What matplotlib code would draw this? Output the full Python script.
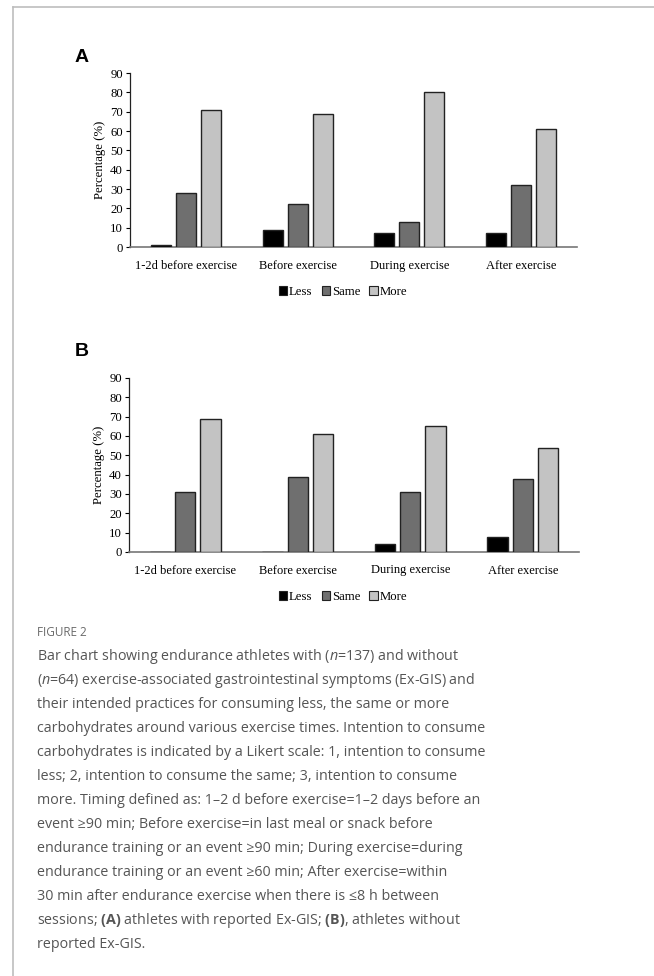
import matplotlib
matplotlib.use("Agg")
import matplotlib.pyplot as plt
import numpy as np
from matplotlib.patches import Patch
from matplotlib.lines import Line2D

categories = ["1-2d before exercise", "Before exercise", "During exercise", "After exercise"]
series_names = ["Less", "Same", "More"]
a_less = [1, 9, 7, 7]
a_same = [28, 22, 13, 32]
a_more = [71, 69, 80, 61]
b_less = [0, 0, 4, 8]
b_same = [31, 39, 31, 38]
b_more = [69, 61, 65, 54]
yticks = [0, 10, 20, 30, 40, 50, 60, 70, 80, 90]
colors = ["#000000", "#6f6f6f", "#c3c3c3"]

W, H = 654, 976
fig = plt.figure(figsize=(W / 100, H / 100), dpi=100)
fig.patch.set_facecolor("white")

serif = ["Liberation Serif", "DejaVu Serif"]


def px_axes(left, top, right, bottom):
    return fig.add_axes([left / W, 1 - bottom / H, (right - left) / W, (bottom - top) / H])


def draw_panel(ax, data, legend_y_px):
    x = np.arange(len(categories))
    bw = 0.179
    step = 0.224
    for i, (vals, col) in enumerate(zip(data, colors)):
        ax.bar(x + (i - 1) * step, vals, width=bw, color=col, edgecolor="#222222", linewidth=1.0, zorder=3)
    ax.set_xlim(-0.5, len(categories) - 0.5)
    ax.set_ylim(0, 90)
    ax.set_yticks(yticks)
    ax.set_yticklabels([str(t) for t in yticks], family=serif, fontsize=9.2)
    ax.set_xticks(x)
    ax.set_xticklabels(categories, family=serif, fontsize=9)
    ax.tick_params(axis="x", length=0, pad=9)
    ax.tick_params(axis="y", length=3, width=0.8, pad=2, direction="out")
    for s in ["top", "right"]:
        ax.spines[s].set_visible(False)
    ax.spines["left"].set_color("#222222")
    ax.spines["left"].set_linewidth(0.9)
    ax.spines["bottom"].set_color("#777777")
    ax.spines["bottom"].set_linewidth(1.2)
    ax.set_ylabel("Percentage (%)", family=serif, fontsize=9.2, labelpad=3)
    handles = [Patch(facecolor=c, edgecolor="#222222", linewidth=0.8) for c in colors]
    fig.legend(handles, series_names, loc="center", bbox_to_anchor=(343 / W, 1 - legend_y_px / H),
               ncol=3, frameon=False, handlelength=0.65, handleheight=0.65, handletextpad=0.15,
               columnspacing=0.7, prop={"family": serif, "size": 9.2})


axA = px_axes(130, 73, 577, 247)
draw_panel(axA, [a_less, a_same, a_more], 292)
axB = px_axes(129, 378, 579, 552)
draw_panel(axB, [b_less, b_same, b_more], 597)

fig.text(75 / W, 1 - 57 / H, "A", family=["Liberation Sans", "DejaVu Sans"], weight="bold", fontsize=14,
         ha="left", va="center")
fig.text(75 / W, 1 - 351 / H, "B", family=["Liberation Sans", "DejaVu Sans"], weight="bold", fontsize=14,
         ha="left", va="center")

# border lines
fig.add_artist(Line2D([13 / W, 1], [1 - 7 / H, 1 - 7 / H], color="#bdbdbd", linewidth=1.2))
fig.add_artist(Line2D([13 / W, 13 / W], [1 - 7 / H, 0], color="#bdbdbd", linewidth=1.2))

plt.rcParams["mathtext.fontset"] = "custom"
plt.rcParams["mathtext.rm"] = "Open Sans"
plt.rcParams["mathtext.it"] = "Open Sans:italic"
plt.rcParams["mathtext.bf"] = "Open Sans:bold"

cap_font = ["Open Sans", "DejaVu Sans"]
fig.text(37 / W, 1 - 633 / H, "FIGURE 2", family=cap_font, fontsize=8.5, color="#6a6a6a",
         ha="left", va="center")

caption_lines = [
    "Bar chart showing endurance athletes with ($\\it{n}$=137) and without",
    "($\\it{n}$=64) exercise-associated gastrointestinal symptoms (Ex-GIS) and",
    "their intended practices for consuming less, the same or more",
    "carbohydrates around various exercise times. Intention to consume",
    "carbohydrates is indicated by a Likert scale: 1, intention to consume",
    "less; 2, intention to consume the same; 3, intention to consume",
    "more. Timing defined as: 1\u20132 d before exercise=1\u20132 days before an",
    "event \u226590 min; Before exercise=in last meal or snack before",
    "endurance training or an event \u226590 min; During exercise=during",
    "endurance training or an event \u226560 min; After exercise=within",
    "30 min after endurance exercise when there is \u22648 h between",
    "sessions; $\\mathbf{(A)}$ athletes with reported Ex-GIS; $\\mathbf{(B)}$, athletes without",
    "reported Ex-GIS.",
]
for i, line in enumerate(caption_lines):
    fig.text(37 / W, 1 - (656 + 24 * i) / H, line, family=cap_font, fontsize=10.3, color="#555555",
             ha="left", va="center")

fig.savefig("out.png", dpi=100)
